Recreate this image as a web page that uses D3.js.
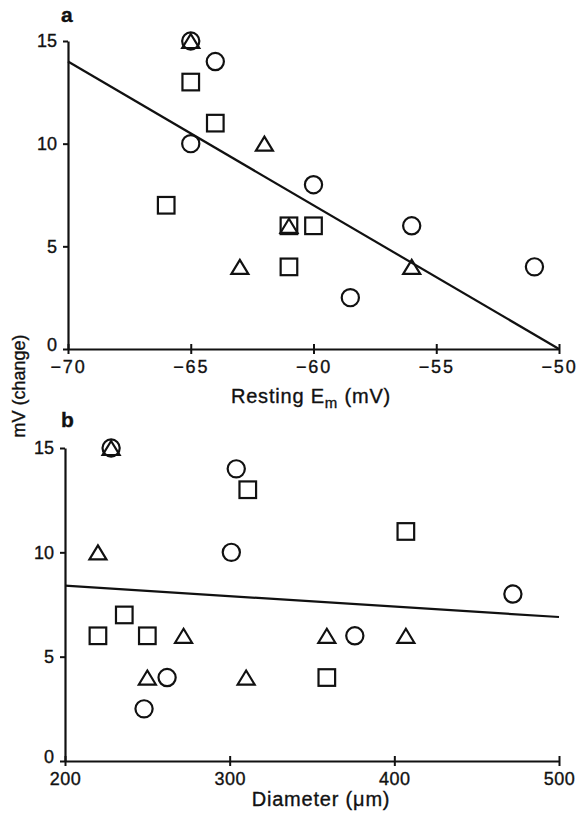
<!DOCTYPE html>
<html>
<head>
<meta charset="utf-8">
<script src="https://cdn.jsdelivr.net/npm/d3@7"></script>
<style>
  html, body { margin: 0; padding: 0; background: #fff; }
  svg { display: block; }
  text { font-family: "Liberation Sans", Arial, Helvetica, sans-serif; fill: #111; stroke: #111; stroke-width: 0.35px; }
</style>
</head>
<body>
<svg id="chart" width="577" height="816"></svg>
<script>
// Panel a: change in potential vs resting membrane potential (mV)
const restingCircles   = [[-65, 15], [-64, 14], [-65, 10], [-60, 8], [-56, 6], [-58.5, 2.5], [-51, 4]];
const restingSquares   = [[-65, 13], [-64, 11], [-66, 7], [-61, 6], [-61, 4], [-60, 6]];
const restingTriangles = [[-65, 15], [-62, 10], [-63, 4], [-61, 6], [-56, 4]];
const restingFit       = [[-70, 14], [-50, 0]];
const restingTicks     = [-70, -65, -60, -55, -50];

// Panel b: change in potential vs fibre diameter (µm)
const diameterCircles   = [[228, 15], [304, 14], [301, 10], [472, 8], [262, 4], [248, 2.5], [376, 6]];
const diameterSquares   = [[311, 13], [407, 11], [220, 6], [236, 7], [250, 6], [359, 4]];
const diameterTriangles = [[228, 15], [220, 10], [272, 6], [250, 4], [310, 4], [359, 6], [407, 6]];
const diameterFit       = [[200, 8.4], [500, 6.9]];
const diameterTicks     = [200, 300, 400, 500];

const changeTicks = [0, 5, 10, 15];

const svg = d3.select("#chart");
svg.append("rect").attr("width", 577).attr("height", 816).attr("fill", "#fff");

const INK = "#111";
const SW = 2.2;

function triPath(cx, cy, w, h) {
  const p = d3.path();
  p.moveTo(cx, cy - h / 2);
  p.lineTo(cx + w / 2, cy + h / 2);
  p.lineTo(cx - w / 2, cy + h / 2);
  p.closePath();
  return p.toString();
}

function drawPanel(cfg) {
  const g = svg.append("g");
  const x = d3.scaleLinear().domain(cfg.xDomain).range(cfg.xRange);
  const y = d3.scaleLinear().domain([0, 15]).range(cfg.yRange);

  // y axis
  const yAx = g.append("g")
    .attr("transform", `translate(${cfg.xRange[0]},0)`)
    .call(d3.axisLeft(y).tickValues(changeTicks).tickSize(5).tickSizeOuter(0).tickPadding(6).tickFormat(d3.format("d")));
  yAx.selectAll("text").style("font-size", "18px").attr("fill", INK);
  // the zero label sits just above the corner so it clears the x tick labels
  yAx.selectAll(".tick").filter(d => d === 0).select("text").attr("dy", "0.1em");

  // x axis
  const xAx = g.append("g")
    .attr("transform", `translate(0,${cfg.yRange[0]})`)
    .call(d3.axisBottom(x).tickValues(cfg.ticks).tickSize(5).tickSizeOuter(0).tickPadding(6).tickFormat(d3.format("d")));
  xAx.selectAll(".tick line").attr("y1", -5);
  xAx.selectAll("text").style("font-size", "18px").style("letter-spacing", cfg.tickSpacing).attr("fill", INK);

  [yAx, xAx].forEach(a => {
    a.select(".domain").attr("stroke", INK).attr("stroke-width", SW);
    a.selectAll(".tick line").attr("stroke", INK).attr("stroke-width", 2);
    a.attr("font-family", null).attr("font-size", null);
  });

  // regression line
  g.append("path")
    .attr("d", d3.line().x(d => x(d[0])).y(d => y(d[1]))(cfg.fit))
    .attr("fill", "none").attr("stroke", INK).attr("stroke-width", SW);

  // markers
  g.selectAll("circle.pt").data(cfg.circles).join("circle")
    .attr("class", "pt")
    .attr("cx", d => x(d[0])).attr("cy", d => y(d[1])).attr("r", 8.6)
    .attr("fill", "none").attr("stroke", INK).attr("stroke-width", SW);

  g.selectAll("rect.pt").data(cfg.squares).join("rect")
    .attr("class", "pt")
    .attr("x", d => x(d[0]) - 8.3).attr("y", d => y(d[1]) - 8.3)
    .attr("width", 16.6).attr("height", 16.6)
    .attr("fill", "none").attr("stroke", INK).attr("stroke-width", SW);

  g.selectAll("path.tri").data(cfg.triangles).join("path")
    .attr("class", "tri")
    .attr("d", d => triPath(x(d[0]), y(d[1]), 17, 14))
    .attr("fill", "none").attr("stroke", INK).attr("stroke-width", SW)
    .attr("stroke-linejoin", "miter");

  // panel letter
  g.append("text")
    .attr("x", cfg.letterPos[0]).attr("y", cfg.letterPos[1])
    .style("font-size", "21px").style("font-weight", "bold")
    .text(cfg.letter);

  // x title
  const t = g.append("text")
    .attr("x", cfg.titlePos[0]).attr("y", cfg.titlePos[1])
    .attr("text-anchor", "middle")
    .style("font-size", "20px")
    .style("letter-spacing", "0.8px");
  cfg.title(t);
}

drawPanel({
  xDomain: [-70, -50], xRange: [68, 559], yRange: [349, 41],
  ticks: restingTicks, tickSpacing: "1.8px",
  circles: restingCircles, squares: restingSquares, triangles: restingTriangles,
  fit: restingFit, letter: "a", letterPos: [61, 22], titlePos: [311, 403],
  title: t => {
    t.append("tspan").text("Resting E");
    t.append("tspan").attr("dy", 5).style("font-size", "15px").text("m");
    t.append("tspan").attr("dy", -5).text(" (mV)");
  }
});

drawPanel({
  xDomain: [200, 500], xRange: [65, 559], yRange: [761, 448],
  ticks: diameterTicks, tickSpacing: "0.5px",
  circles: diameterCircles, squares: diameterSquares, triangles: diameterTriangles,
  fit: diameterFit, letter: "b", letterPos: [61, 427], titlePos: [321, 806],
  title: t => { t.text("Diameter (\u03bcm)"); }
});

// shared y-axis title
svg.append("text")
  .attr("transform", "translate(25,386) rotate(-90)")
  .attr("text-anchor", "middle")
  .style("font-size", "18px")
  .text("mV (change)");
</script>
</body>
</html>
